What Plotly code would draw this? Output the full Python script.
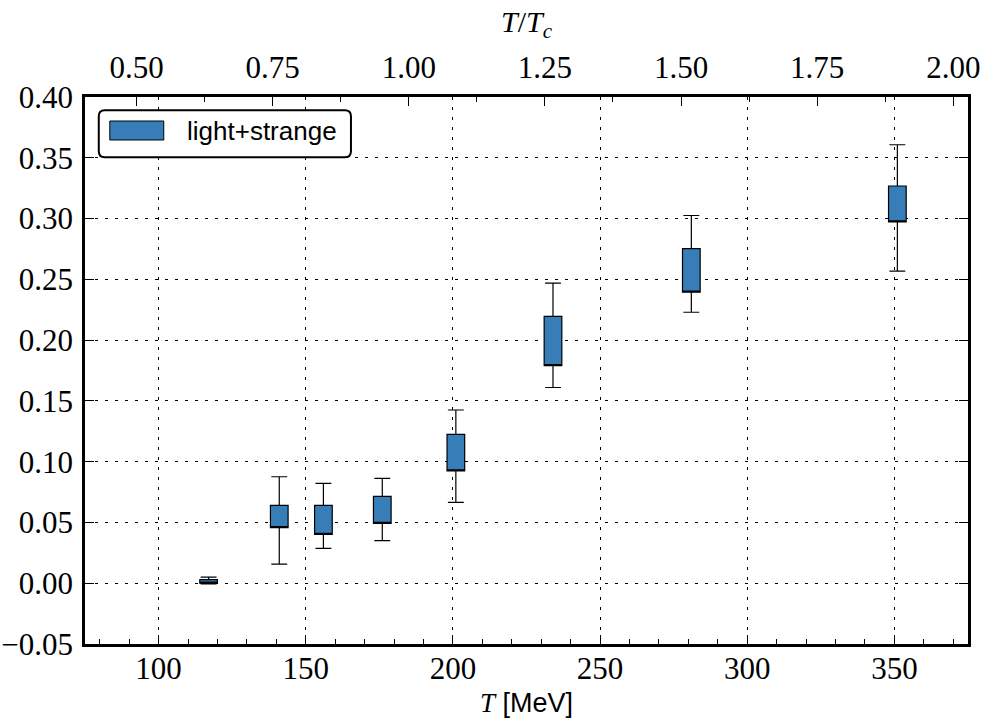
import plotly.graph_objects as go

# Temperatures (MeV) and box statistics for light+strange
T = [117, 141, 156, 176, 201, 234, 281, 351]
box_low = [0.0000, 0.0458, 0.0402, 0.0493, 0.0924, 0.1790, 0.2394, 0.2973]
box_high = [0.0030, 0.0640, 0.0640, 0.0714, 0.1225, 0.2196, 0.2752, 0.3268]
whisk_low = [-0.0005, 0.0157, 0.0287, 0.0350, 0.0665, 0.1610, 0.2229, 0.2568]
whisk_high = [0.0050, 0.0876, 0.0821, 0.0863, 0.1425, 0.2469, 0.3025, 0.3607]

series_label = "light+strange"
Tc = 185.0
T_range = [75, 375]
y_range = [-0.05, 0.40]

BLUE = "#377eb8"
SERIF = "Liberation Serif"
SANS = "Liberation Sans"

fig = go.Figure()

fig.add_trace(go.Box(
    x=T,
    q1=box_low,
    median=box_low,
    q3=box_high,
    lowerfence=whisk_low,
    upperfence=whisk_high,
    width=6,
    whiskerwidth=0.9,
    fillcolor=BLUE,
    line=dict(color="black", width=1.2),
    boxpoints=False,
    showlegend=False,
    xaxis="x",
    yaxis="y",
))

# invisible trace to activate the top T/Tc axis
fig.add_trace(go.Scatter(
    x=[T_range[0] / Tc, T_range[1] / Tc], y=[None, None],
    xaxis="x2", yaxis="y", mode="lines", showlegend=False, hoverinfo="skip",
))

grid_dash = "3px,7px"
tick_font = dict(family=SERIF, size=31, color="black")

fig.update_layout(
    width=986, height=726,
    margin=dict(l=85, r=18, t=97, b=82),
    paper_bgcolor="white", plot_bgcolor="white",
    showlegend=False,
    xaxis=dict(
        range=T_range, automargin=False,
        dtick=50, tick0=0,
        ticks="inside", ticklen=9, tickwidth=1.2, tickcolor="black",
        minor=dict(dtick=10, ticks="inside", ticklen=5, tickwidth=1.2,
                   tickcolor="black", showgrid=False),
        showline=True, linewidth=2.5, linecolor="black", mirror=True,
        showgrid=True, gridcolor="black", gridwidth=1, griddash=grid_dash,
        zeroline=False,
        tickfont=tick_font,
        ticklabelstandoff=-5,
        title=dict(
            text=f'<span style="font-family:{SERIF}"><i>T</i></span> [MeV]',
            font=dict(family=SANS, size=27, color="black"),
            standoff=9,
        ),
    ),
    xaxis2=dict(
        range=[T_range[0] / Tc, T_range[1] / Tc], automargin=False,
        overlaying="x", side="top",
        dtick=0.25, tick0=0, tickformat=".2f",
        ticks="inside", ticklen=9, tickwidth=1.2, tickcolor="black",
        minor=dict(dtick=0.125, ticks="inside", ticklen=5, tickwidth=1.2,
                   tickcolor="black", showgrid=False),
        showline=True, linewidth=2.5, linecolor="black",
        showgrid=False, zeroline=False,
        tickfont=tick_font,
        ticklabelstandoff=4,
        title=dict(
            text="<i>T</i>/<i>T</i><sub><i>c</i></sub>",
            font=dict(family=SERIF, size=30, color="black"),
            standoff=9,
        ),
    ),
    yaxis=dict(
        range=y_range, automargin=False,
        dtick=0.05, tick0=0, tickformat=".2f",
        ticks="inside", ticklen=9, tickwidth=1.2, tickcolor="black",
        showline=True, linewidth=2.5, linecolor="black", mirror="ticks",
        showgrid=True, gridcolor="black", gridwidth=1, griddash=grid_dash,
        zeroline=False,
        tickfont=tick_font,
        ticklabelstandoff=3,
    ),
)

# legend frame with rounded corners, patch and label (plot-area fractions)
lx0, lx1, ly0, ly1 = 0.0156, 0.3012, 0.890, 0.976
rx, ry = 0.0068, 0.011
legend_path = (
    f"M {lx0 + rx},{ly1} L {lx1 - rx},{ly1} Q {lx1},{ly1} {lx1},{ly1 - ry} "
    f"L {lx1},{ly0 + ry} Q {lx1},{ly0} {lx1 - rx},{ly0} "
    f"L {lx0 + rx},{ly0} Q {lx0},{ly0} {lx0},{ly0 + ry} "
    f"L {lx0},{ly1 - ry} Q {lx0},{ly1} {lx0 + rx},{ly1} Z"
)
fig.add_shape(type="path", path=legend_path, xref="paper", yref="paper",
              line=dict(color="black", width=2), fillcolor="white", layer="above")
fig.add_shape(type="rect", xref="paper", yref="paper",
              x0=0.0281, x1=0.0892, y0=0.9214, y1=0.9561,
              line=dict(color="black", width=1), fillcolor=BLUE, layer="above")
fig.add_annotation(text=series_label, xref="paper", yref="paper",
                   x=0.1135, y=0.9384, xanchor="left", yanchor="middle",
                   showarrow=False,
                   font=dict(family=SANS, size=26, color="black"))

fig.write_html("out.html")
